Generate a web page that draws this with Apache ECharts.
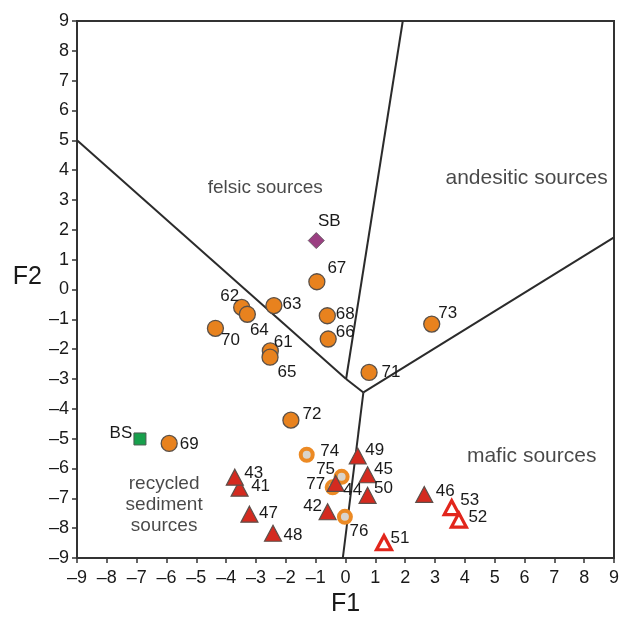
<!DOCTYPE html>
<html>
<head>
<meta charset="utf-8">
<script src="https://cdn.jsdelivr.net/npm/echarts@6/dist/echarts.min.js"></script>
<style>
html,body{margin:0;padding:0;background:#fff;}
#chart{width:624px;height:617px;}
</style>
</head>
<body>
<div id="chart"></div>
<script>
// ---- data ----
const xTicks = [-9,-8,-7,-6,-5,-4,-3,-2,-1,0,1,2,3,4,5,6,7,8,9];
const yTicks = [-9,-8,-7,-6,-5,-4,-3,-2,-1,0,1,2,3,4,5,6,7,8,9];

// orange filled circles
const circleIds = ['61','62','63','64','65','66','67','68','69','70','71','72','73'];
const circleX   = [-2.52,-3.48,-2.40,-3.29,-2.53,-0.58,-0.96,-0.61,-5.91,-4.36,0.79,-1.83,2.89];
const circleY   = [-2.06,-0.60,-0.54,-0.83,-2.27,-1.66,0.26,-0.88,-5.16,-1.30,-2.78,-4.38,-1.16];

// orange rings
const ringIds = ['74','75','76','77'];
const ringX   = [-1.30,-0.13,-0.02,-0.43];
const ringY   = [-5.54,-6.28,-7.62,-6.63];

// filled red triangles
const triIds = ['41','42','43','44','45','46','47','48','49','50'];
const triX   = [-3.55,-0.60,-3.71,-0.33,0.74,2.64,-3.22,-2.43,0.41,0.74];
const triY   = [-6.66,-7.45,-6.29,-6.50,-6.21,-6.87,-7.53,-8.17,-5.58,-6.90];

// hollow red triangles
const hollowIds = ['51','52','53'];
const hollowX   = [1.29,3.80,3.56];
const hollowY   = [-8.49,-7.73,-7.31];

// reference points
const sbPoint = [-0.98, 1.64];
const bsPoint = [-6.89, -5.01];

// field boundaries (data coordinates)
const boundaryFelsic   = [[-9,5],[0.02,-3.0]];
const boundaryUpper    = [[1.92,9],[0.02,-3.0]];
const boundaryShort    = [[0.02,-3.0],[0.60,-3.45]];
const boundaryMafic    = [[0.60,-3.45],[9,1.75]];
const boundaryRecycled = [[0.60,-3.45],[-0.09,-9]];

// field names
const fieldNames = ['felsic sources','andesitic sources','mafic sources','recycled\nsediment\nsources'];
const fieldX     = [-2.69, 6.07, 6.24, -6.08];
const fieldY     = [3.40, 3.73, -5.58, -7.22];

// ---- styling ----
const fieldFont = [19, 21, 21, 19];
const labelOffset = {
  '61':[13,-9],'62':[-12,-11],'63':[18,-1],'64':[12,16],'65':[17,15],'66':[17,-7],
  '67':[20,-13],'68':[18,-1],'69':[20,1],'70':[15,12],'71':[22,0],'72':[21,-6],'73':[16,-11],
  '74':[23,-3],'75':[-16,-8],'76':[14,14],'77':[-17,-3],
  '41':[21,-2],'42':[-15,-5],'43':[19,-4],'44':[17,7],'45':[16,-5],'46':[21,-3],
  '47':[19,-1],'48':[20,2],'49':[17,-6],'50':[16,-7],
  '51':[16,-4],'52':[19,-3],'53':[18,-7],
  'SB':[13,-19],'BS':[-19,-6]
};

const FONT = 'Liberation Sans, Arial, Helvetica, sans-serif';
const TXT = '#1a1a1a';

function pts(ids, xs, ys){
  return ids.map((id,i)=>({
    name:id, value:[xs[i],ys[i]],
    label:{offset: labelOffset[id]}
  }));
}
const baseLabel = {show:true, position:'inside', formatter:p=>p.name,
  fontSize:17, color:TXT, fontFamily:FONT};

function lineSeries(d){
  return {type:'line', data:d, symbol:'none', silent:true, z:1,
    lineStyle:{color:'#2b2b2b', width:2}, animation:false};
}
const fmt = v => v < 0 ? '\u2013' + Math.abs(v) : String(v);

const chart = echarts.init(document.getElementById('chart'), null, {renderer:'canvas'});
chart.setOption({
  animation:false,
  backgroundColor:'#fff',
  grid:{left:77, right:10, top:21, bottom:59, show:true, borderColor:'#333', borderWidth:2,
    containLabel:false, outerBoundsMode:'none'},
  xAxis:{type:'value', min:-9, max:9, interval:1,
    name:'F1', nameLocation:'middle', nameGap:29,
    nameTextStyle:{fontSize:25, color:TXT, fontFamily:FONT},
    axisLine:{show:true, onZero:false, lineStyle:{color:'#333', width:2}},
    axisTick:{show:true, length:5, lineStyle:{color:'#333', width:1.5}},
    axisLabel:{formatter:fmt, fontSize:18, color:TXT, fontFamily:FONT, margin:11},
    splitLine:{show:false}},
  yAxis:{type:'value', min:-9, max:9, interval:1,
    name:'F2', nameLocation:'middle', nameGap:35, nameRotate:0,
    nameTextStyle:{fontSize:25, color:TXT, fontFamily:FONT, verticalAlign:'bottom'},
    axisLine:{show:true, onZero:false, lineStyle:{color:'#333', width:2}},
    axisTick:{show:true, length:5, lineStyle:{color:'#333', width:1.5}},
    axisLabel:{formatter:fmt, fontSize:18, color:TXT, fontFamily:FONT, margin:8},
    splitLine:{show:false}},
  series:[
    lineSeries(boundaryFelsic),
    lineSeries(boundaryUpper),
    lineSeries(boundaryShort),
    lineSeries(boundaryMafic),
    lineSeries(boundaryRecycled),
    {type:'scatter', z:2, symbol:'circle', symbolSize:0, silent:true,
      data: fieldNames.map((n,i)=>({name:n, value:[fieldX[i],fieldY[i]],
        label:{fontSize:fieldFont[i]}})),
      label:{show:true, position:'inside', formatter:p=>p.name,
        lineHeight:21, color:TXT, fontFamily:FONT, align:'center'}},
    {type:'scatter', z:3, symbol:'circle', symbolSize:16,
      itemStyle:{color:'#e8821e', borderColor:'#5a5048', borderWidth:1.3, opacity:1},
      label:baseLabel, data:pts(circleIds,circleX,circleY)},
    {type:'scatter', z:3, symbol:'circle', symbolSize:12,
      itemStyle:{color:'#d9d4cc', borderColor:'#ec8a24', borderWidth:4, opacity:1},
      label:baseLabel, data:pts(ringIds,ringX,ringY)},
    {type:'scatter', z:4, symbol:'triangle', symbolSize:[17,16],
      itemStyle:{color:'#d42a1f', borderColor:'#5e4f4a', borderWidth:1.2, opacity:1},
      label:baseLabel, data:pts(triIds,triX,triY)},
    {type:'scatter', z:4, symbol:'triangle', symbolSize:[15,14],
      itemStyle:{color:'#ffffff', borderColor:'#e2261c', borderWidth:3.2, opacity:1},
      label:baseLabel, data:pts(hollowIds,hollowX,hollowY)},
    {type:'scatter', z:4, symbol:'diamond', symbolSize:[16,16],
      itemStyle:{color:'#9b3f82', borderColor:'#6a5a66', borderWidth:1, opacity:1},
      label:baseLabel, data:[{name:'SB', value:sbPoint, label:{offset:labelOffset['SB']}}]},
    {type:'scatter', z:4, symbol:'rect', symbolSize:12,
      itemStyle:{color:'#17a04c', borderColor:'#4a5a50', borderWidth:1, opacity:1},
      label:baseLabel, data:[{name:'BS', value:bsPoint, label:{offset:labelOffset['BS']}}]}
  ]
});
</script>
</body>
</html>
